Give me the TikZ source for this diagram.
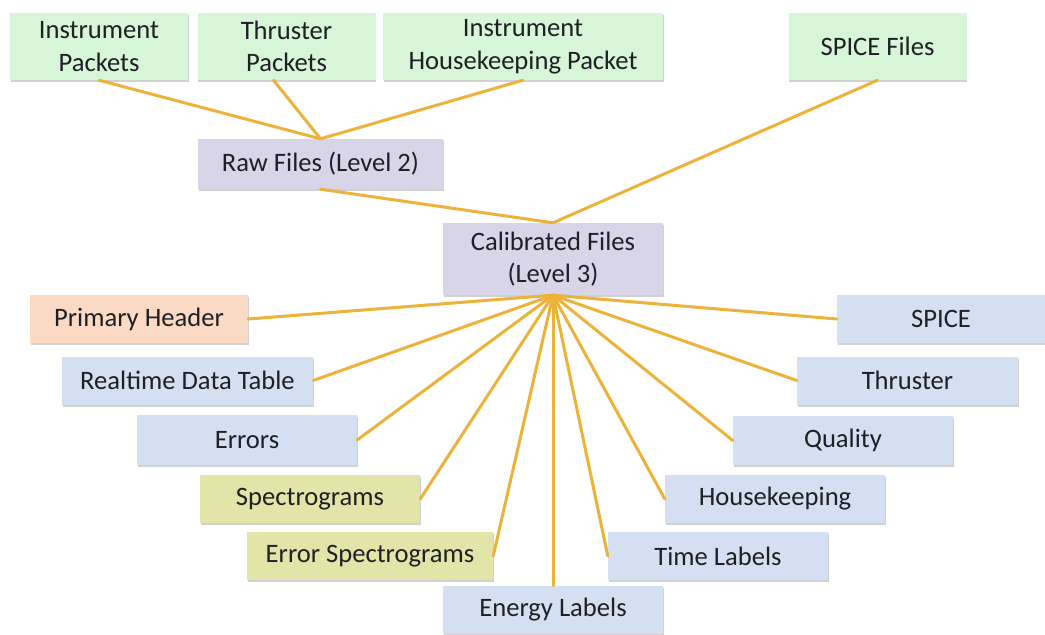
\documentclass[tikz,border=0pt]{standalone}
\definecolor{pktgreen}{RGB}{215, 245, 215}
\definecolor{lvlpurple}{RGB}{216, 213, 232}
\definecolor{hdrorange}{RGB}{250, 218, 196}
\definecolor{extblue}{RGB}{212, 224, 242}
\definecolor{specyellow}{RGB}{226, 228, 168}
\definecolor{linkgold}{RGB}{236, 178, 58}
\definecolor{txtgray}{RGB}{30, 32, 36}
\usepackage{fontspec}
\setmainfont{Carlito}
\usepackage{tikz}
\usetikzlibrary{positioning, shadows}

\begin{document}
\begin{tikzpicture}[x=1pt, y=-1pt,
  cell/.style={fill=#1, text=txtgray, align=center, inner sep=0pt,
    minimum width=220pt, minimum height=48pt,
    font=\fontsize{26.6}{32.7}\selectfont,
    drop shadow={shadow xshift=0.5pt, shadow yshift=-2pt, opacity=0.3, fill=black!60}},
  pkt/.style={cell=pktgreen, minimum width=178pt, minimum height=67pt},
  link/.style={draw=linkgold, line width=3pt, line cap=round}]
  \useasboundingbox (0,0) rectangle (1045,635);
  % Packets and SPICE sources
  \node[pkt] (ip) at (99, 46.5) {Instrument\\Packets};
  \node[pkt] (tp) at (286.5, 46.5) {Thruster\\Packets};
  \node[pkt, minimum width=280pt] (ihp) at (523, 46.5) {Instrument\\Housekeeping Packet};
  \node[pkt] (sf) at (877.5, 46.5) {SPICE Files};
  % Levels
  \node[cell=lvlpurple, minimum width=245pt, minimum height=50pt] (raw) at (320.5, 164) {Raw Files (Level 2)};
  \node[cell=lvlpurple, minimum height=72pt] (cal) at (553, 259) {Calibrated Files\\(Level 3)};
  % Extensions, left side
  \node[cell=hdrorange, minimum width=218pt] (ph) at (139, 319) {Primary Header};
  \node[cell=extblue, minimum width=251pt] (rdt) at (187.5, 380.5) {Realtime Data Table};
  \node[cell=extblue, minimum height=50pt] (err) at (247, 440) {Errors};
  \node[cell=specyellow] (spec) at (310, 499) {Spectrograms};
  \node[cell=specyellow, minimum width=246pt] (espec) at (370, 556) {Error Spectrograms};
  % Extensions, bottom and right side
  \node[cell=extblue] (energy) at (553, 610) {Energy Labels};
  \node[cell=extblue] (time) at (718, 556) {Time Labels};
  \node[cell=extblue] (hk) at (775, 499) {Housekeeping};
  \node[cell=extblue, minimum height=49pt] (qual) at (843, 440.5) {Quality};
  \node[cell=extblue, minimum width=221pt] (thr) at (907.5, 380.5) {Thruster};
  \node[cell=extblue, minimum width=208pt] (spice) at (941, 319) {SPICE};
  % Links
  \draw[link] (ip.south) -- (raw.north);
  \draw[link] ([xshift=-13pt]tp.south) -- (raw.north);
  \draw[link] (ihp.south) -- (raw.north);
  \draw[link] (raw.south) -- (cal.north);
  \draw[link] (sf.south) -- (cal.north);
  \foreach \n in {ph, rdt, err, spec, espec}
    \draw[link] (cal.south) -- (\n.east);
  \draw[link] (cal.south) -- (energy.north);
  \foreach \n in {time, hk, qual, thr, spice}
    \draw[link] (cal.south) -- (\n.west);
\end{tikzpicture}
\end{document}
